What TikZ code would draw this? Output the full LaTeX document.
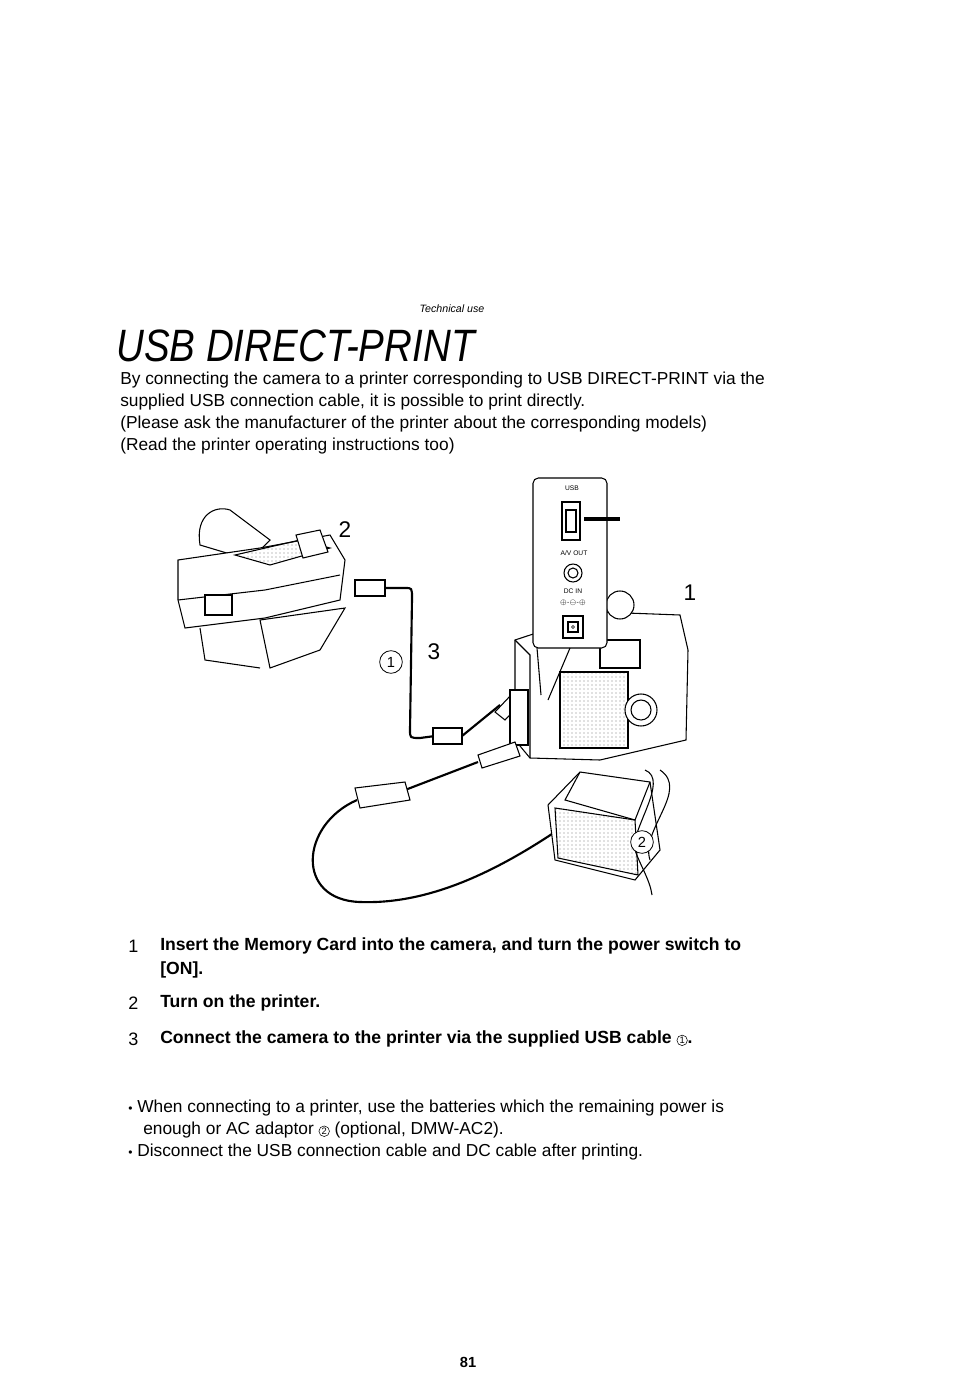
\documentclass[tikz,border=0pt]{standalone}
\usepackage{fontspec}
\setmainfont{Liberation Sans}
\usetikzlibrary{patterns}
\newcommand{\circnum}[1]{\tikz[baseline=(cn.base)]\node[draw,circle,inner sep=0.6pt,line width=0.4pt,font=\fontsize{7}{8}\selectfont\mdseries] (cn) {#1};}
\begin{document}
\begin{tikzpicture}[x=0.75pt,y=-0.75pt,
  body/.style={anchor=west,inner sep=0pt,font=\fontsize{13}{14}\selectfont},
  stepn/.style={anchor=west,inner sep=0pt,font=\fontsize{13.5}{15}\selectfont},
  stept/.style={anchor=west,inner sep=0pt,font=\fontsize{13.2}{14}\selectfont\bfseries},
  big/.style={inner sep=0pt,font=\fontsize{17}{18}\selectfont},
  tiny/.style={inner sep=0pt,font=\fontsize{5}{6}\selectfont},
  ln/.style={line width=0.8pt},
  shade/.style={pattern=dots,pattern color=gray}]
\useasboundingbox (0,0) rectangle (954,1373);
% header
\node[inner sep=0pt,font=\fontsize{8}{9}\selectfont\itshape] (tech) at (452,309) {Technical use};
\node[anchor=west,inner sep=0pt,font=\fontsize{34}{36}\selectfont\itshape] (title) at (116,346) {\scalebox{0.85}[1]{USB DIRECT-PRINT}};
\node[body] (p1) at (120,380) {By connecting the camera to a printer corresponding to USB DIRECT-PRINT via the};
\node[body] (p2) at (120,402) {supplied USB connection cable, it is possible to print directly.};
\node[body] (p3) at (120,424) {(Please ask the manufacturer of the printer about the corresponding models)};
\node[body] (p4) at (120,446) {(Read the printer operating instructions too)};
% printer
\draw[ln,fill=white] (200,545) .. controls (195,515) and (215,505) .. (230,510) -- (270,540) -- (250,560) -- cycle;
\draw[ln,fill=white] (178,560) -- (260,548) -- (330,535) -- (345,560) -- (340,600) -- (265,618) -- (185,628) -- (178,600) -- cycle;
\draw[ln,shade] (235,555) -- (300,540) -- (330,548) -- (270,565) -- cycle;
\draw[ln] (178,600) -- (265,590) -- (340,575);
\draw[ln,fill=white] (205,595) rectangle (232,615);
\draw[ln,fill=white] (260,620) -- (345,608) -- (320,650) -- (270,668) -- cycle;
\draw[ln] (200,628) -- (205,660) -- (260,668);
\draw[ln,fill=white] (296,535) -- (320,530) -- (328,552) -- (303,558) -- cycle;
% camera
\draw[ln,fill=white] (515,640) -- (600,612) -- (680,615) -- (688,650) -- (686,740) -- (600,760) -- (530,758) -- (515,740) -- cycle;
\draw[ln] (515,640) -- (530,655) -- (530,758);
\draw[ln,fill=white] (620,605) circle (14);
\draw[ln,shade] (560,672) rectangle (628,748);
\draw[ln,fill=white] (641,710) circle (16);
\draw[ln] (641,710) circle (10);
\draw[ln] (600,640) rectangle (640,668);
% inset panel
\draw[ln,fill=white,rounded corners=4] (533,478) rectangle (607,648);
\draw[ln] (537,648) -- (541,695);
\draw[ln] (570,648) -- (548,700);
\node[tiny] (usb) at (572,488) {USB};
\draw[ln] (562,502) rectangle (580,540);
\draw[ln] (566,510) rectangle (576,532);
\draw[line width=3pt] (584,519) -- (620,519);
\node[tiny] (av) at (574,553) {A/V OUT};
\draw[ln] (573,573) circle (9);
\draw[ln] (573,573) circle (5);
\node[tiny] (dc) at (573,591) {DC IN};
\node[tiny] (dcs) at (573,603) {$\oplus$-$\ominus$-$\oplus$};
\draw[ln] (563,616) rectangle (583,638);
\draw[ln] (568,622) rectangle (578,632);
\draw (573,627) circle (1.5);
% cables
\draw[ln,fill=white] (355,580) rectangle (385,596);
\draw[line width=1.6pt] (385,588) -- (405,588) .. controls (412,588) .. (412,598) -- (410,730) .. controls (410,738) .. (420,738) -- (435,736);
\draw[ln,fill=white] (433,728) rectangle (462,744);
\draw[line width=1.6pt] (462,736) -- (500,705);
\draw[ln,fill=white] (495,712) -- (512,694) -- (522,702) -- (505,720) -- cycle;
\draw[ln,fill=white] (510,690) rectangle (528,745);
\draw[ln,fill=white] (478,755) -- (515,742) -- (520,756) -- (482,768) -- cycle;
\draw[line width=1.6pt] (478,762) -- (405,790);
\draw[ln,fill=white] (355,788) -- (405,782) -- (410,800) -- (360,808) -- cycle;
\draw[line width=1.6pt] (357,800) .. controls (300,825) and (295,900) .. (360,902) .. controls (440,905) and (520,860) .. (600,800);
% AC adaptor
\draw[ln,fill=white] (548,805) -- (580,772) -- (650,782) -- (660,850) -- (635,880) -- (555,860) -- cycle;
\draw[ln,shade] (555,808) -- (635,820) -- (638,875) -- (558,858) -- cycle;
\draw[ln] (580,772) -- (565,800) -- (635,820) -- (650,782);
\draw[ln] (645,770) .. controls (670,780) and (630,830) .. (635,850) .. controls (640,865) and (650,880) .. (652,895);
\draw[ln] (660,770) .. controls (690,790) and (640,830) .. (650,860);
% labels
\node[big] (l2) at (345,530) {2};
\node[big] (l1) at (690,593) {1};
\node[big] (l3) at (434,652) {3};
\node[draw,circle,fill=white,minimum size=17pt,inner sep=0pt,line width=0.6pt,font=\fontsize{11}{12}\selectfont] (c1) at (391,662) {1};
\node[draw,circle,fill=white,minimum size=17pt,inner sep=0pt,line width=0.6pt,font=\fontsize{11}{12}\selectfont] (c2) at (642,842) {2};
% steps
\node[stepn] (n1) at (128,946) {1};
\node[stept] (s1a) at (160,946) {Insert the Memory Card into the camera, and turn the power switch to};
\node[stept] (s1b) at (160,970) {[ON].};
\node[stepn] (n2) at (128,1003) {2};
\node[stept] (s2) at (160,1003) {Turn on the printer.};
\node[stepn] (n3) at (128,1039) {3};
\node[stept] (s3) at (160,1039) {Connect the camera to the printer via the supplied USB cable \circnum{1}.};
% notes
\node[body] (b1) at (128,1108) {{\small•} When connecting to a printer, use the batteries which the remaining power is};
\node[body] (b2) at (143,1130) {enough or AC adaptor \circnum{2} (optional, DMW-AC2).};
\node[body] (b3) at (128,1152) {{\small•} Disconnect the USB connection cable and DC cable after printing.};
\node[inner sep=0pt,font=\fontsize{11}{12}\selectfont\bfseries] (pg) at (468,1362) {81};
\end{tikzpicture}
\end{document}
